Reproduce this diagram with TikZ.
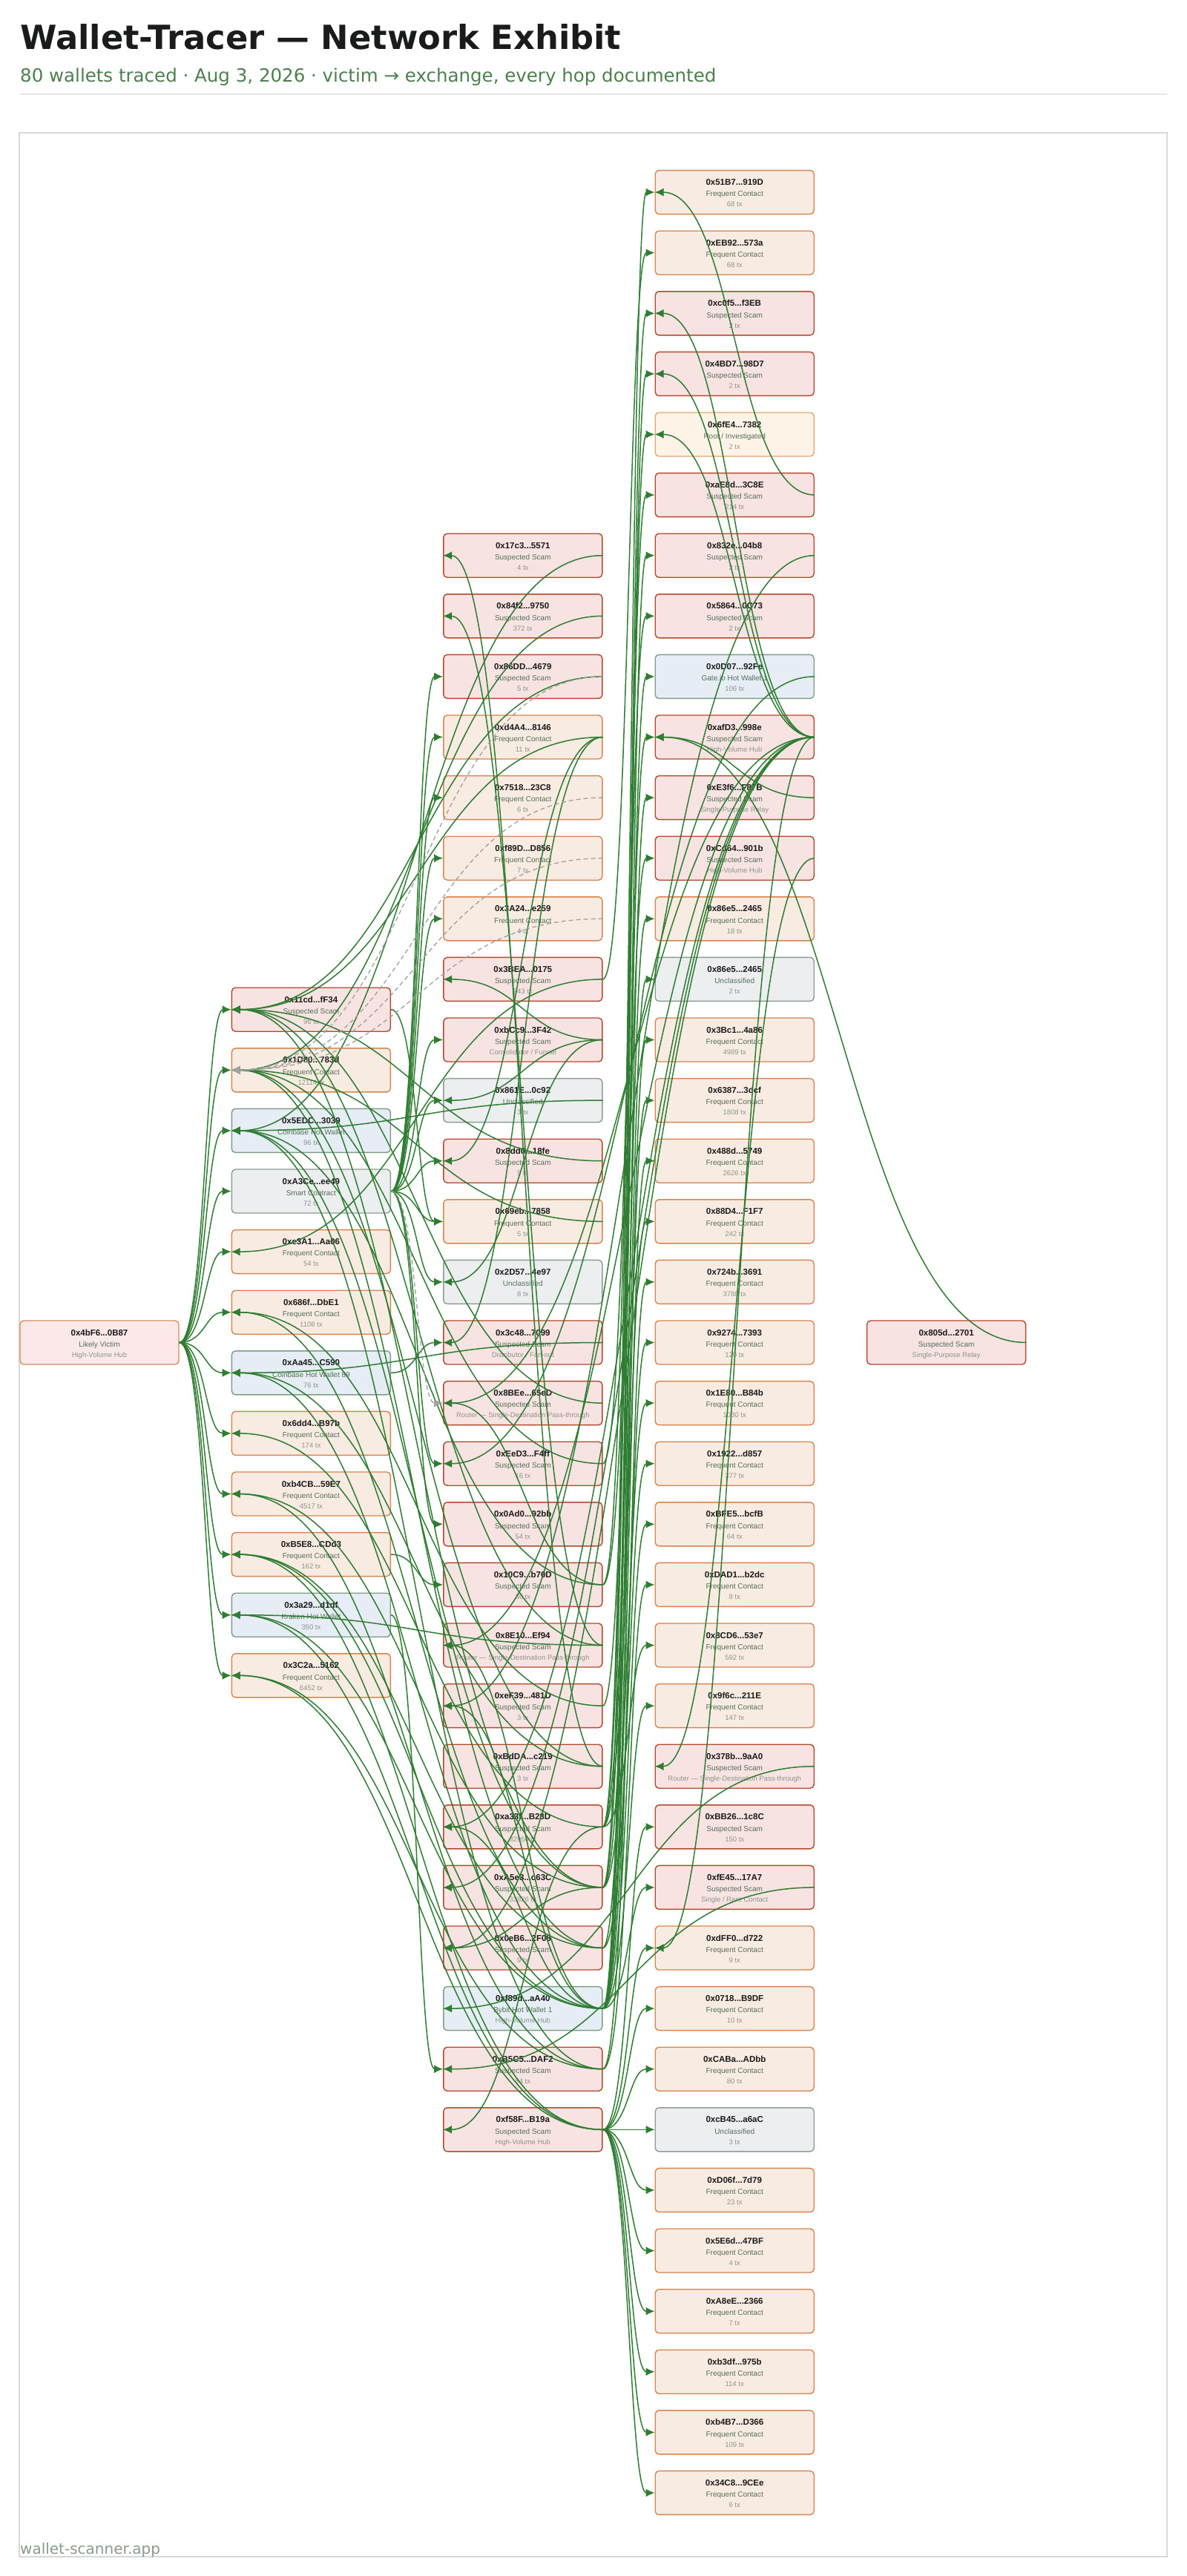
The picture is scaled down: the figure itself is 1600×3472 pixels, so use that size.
\documentclass[tikz,border=0pt]{standalone}
\usepackage{fontspec}
\setmainfont{Liberation Sans}
\newfontfamily\dejavu{DejaVu Sans}
\usetikzlibrary{arrows.meta,calc}

\definecolor{inkblack}{HTML}{1A1C1C}
\definecolor{subgreen}{HTML}{4C7F4E}
\definecolor{footgray}{HTML}{8A9A8C}
\definecolor{framegray}{HTML}{D8D8D8}
\definecolor{rulegray}{HTML}{E6E6E6}
\definecolor{edgegreen}{HTML}{2E7D32}
\definecolor{dashgray}{HTML}{A0A0A0}
\definecolor{scamfill}{HTML}{F7E3E1}
\definecolor{scamline}{HTML}{B6472D}
\definecolor{freqfill}{HTML}{F8EBE2}
\definecolor{freqline}{HTML}{D9844F}
\definecolor{vicfill}{HTML}{FBE8E9}
\definecolor{vicline}{HTML}{D98A5B}
\definecolor{rootfill}{HTML}{FDF3E7}
\definecolor{rootline}{HTML}{E5A66C}
\definecolor{cexfill}{HTML}{E6EDF4}
\definecolor{cexline}{HTML}{7E9C88}
\definecolor{unkfill}{HTML}{ECEEF0}
\definecolor{unkline}{HTML}{8D9C93}
\definecolor{addrtext}{HTML}{1A1A1A}
\definecolor{roletext}{HTML}{56705A}
\definecolor{notetext}{HTML}{8E968E}

\tikzset{
  wbox/.style={rounded corners=5pt, line width=1.4pt, minimum width=214pt, minimum height=59pt, inner sep=0pt},
  scam/.style={wbox, draw=scamline, fill=scamfill},
  freq/.style={wbox, draw=freqline, fill=freqfill},
  victim/.style={wbox, draw=vicline, fill=vicfill},
  root/.style={wbox, draw=rootline, fill=rootfill},
  cex/.style={wbox, draw=cexline, fill=cexfill},
  unk/.style={wbox, draw=unkline, fill=unkfill},
  addr/.style={anchor=base, inner sep=0pt, text=addrtext, font=\bfseries\fontsize{11.5}{13}\selectfont},
  role/.style={anchor=base, inner sep=0pt, text=roletext, font=\fontsize{10}{12}\selectfont},
  note/.style={anchor=base, inner sep=0pt, text=notetext, font=\fontsize{9.5}{11}\selectfont},
  link/.style={draw=edgegreen, line width=1.5pt, -{Latex[length=12pt,width=11pt]}},
  dlink/.style={draw=dashgray, line width=1.3pt, dash pattern=on 6pt off 4pt, -{Latex[length=12pt,width=11pt]}},
}

% box + three lines of text
\newcommand\wallet[7]{%
  \node[#4] (#1) at (#2,{#3}) {};
  \node[addr] (#1-a) at ([yshift=9.5pt]#1.center) {#5};
  \node[role] (#1-r) at ([yshift=-5.8pt]#1.center) {#6};
  \node[note] (#1-n) at ([yshift=-19.8pt]#1.center) {#7};
}
% horizontal link, east side to west side
\newcommand\hop[3][link]{%
  \draw[#1] let \p1=(#2.east), \p2=(#3.west) in
    (\p1) .. controls ({(\x1+\x2)/2},\y1) and ({(\x1+\x2)/2},\y2) .. (\p2);
}

\begin{document}
\begin{tikzpicture}[x=1pt,y=-1pt]
  \useasboundingbox (0,0) rectangle (1600,3472);

  \node[anchor=base west, inner sep=0pt, text=inkblack, font={\dejavu\bfseries\fontsize{44.8}{52}\selectfont}] (title) at (27,66) {Wallet-Tracer — Network Exhibit};
  \node[anchor=base west, inner sep=0pt, text=subgreen, font={\dejavu\fontsize{24.5}{28}\selectfont}] (subtitle) at (27,110) {80 wallets traced · Aug 3, 2026 · victim → exchange, every hop documented};
  \draw[rulegray, line width=2pt] (27,127) -- (1573,127);
  \draw[framegray, line width=1.5pt] (26,179) rectangle (1573,3446);
  \node[anchor=base west, inner sep=0pt, text=footgray, font={\dejavu\fontsize{20}{24}\selectfont}] (footer) at (27,3442) {wallet-scanner.app};

  % column 0 and column 4
  \wallet{vic}{134}{1809.5}{victim}{0x4bF6...0B87}{Likely Victim}{High-Volume Hub}
  \wallet{d1}{1275.6}{1809.5}{scam}{0x805d...2701}{Suspected Scam}{Single-Purpose Relay}

  % column 1
  \foreach \ha/\hb/\ro/\no/\ki [count=\i] in {
    0x11cd/fF34/Suspected Scam/96 tx/scam,
    0x1D80/783d/Frequent Contact/12114 tx/freq,
    0x5EDC/3039/Coinbase Hot Wallet/96 tx/cex,
    0xA3Ce/ee49/Smart Contract/72 tx/unk,
    0xe3A1/Aa06/Frequent Contact/54 tx/freq,
    0x686f/DbE1/Frequent Contact/1108 tx/freq,
    0xAa45/C590/Coinbase Hot Wallet 89/76 tx/cex,
    0x6dd4/B97b/Frequent Contact/174 tx/freq,
    0xb4CB/59E7/Frequent Contact/4517 tx/freq,
    0xB5E8/CDd3/Frequent Contact/162 tx/freq,
    0x3a29/d1df/Kraken Hot Wallet/350 tx/cex,
    0x3C2a/5162/Frequent Contact/6452 tx/freq}
    {\wallet{a\i}{419.4}{1809.5+(\i-6.5)*81.6}{\ki}{\ha...\hb}{\ro}{\no}}

  % column 2
  \foreach \ha/\hb/\ro/\no/\ki [count=\i] in {
    0x17c3/5571/Suspected Scam/4 tx/scam,
    0x84f2/9750/Suspected Scam/372 tx/scam,
    0x86DD/4679/Suspected Scam/5 tx/scam,
    0xd4A4/8146/Frequent Contact/11 tx/freq,
    0x7518/23C8/Frequent Contact/6 tx/freq,
    0xf89D/D856/Frequent Contact/7 tx/freq,
    0x3A24/e259/Frequent Contact/4 tx/freq,
    0x3BEA/0175/Suspected Scam/943 tx/scam,
    0xbCc9/3F42/Suspected Scam/{Consolidator / Funnel}/scam,
    0x861E/0c92/Unclassified/3 tx/unk,
    0x8dd0/18fe/Suspected Scam/5 tx/scam,
    0x69eb/7858/Frequent Contact/5 tx/freq,
    0x2D57/4e97/Unclassified/8 tx/unk,
    0x3c48/7099/Suspected Scam/{Distributor / Fan-out}/scam,
    0x8BEe/65eD/Suspected Scam/Router — Single-Destination Pass-through/scam,
    0xEeD3/F4ff/Suspected Scam/16 tx/scam,
    0x0Ad0/92bb/Suspected Scam/54 tx/scam,
    0x10C9/b70D/Suspected Scam/36 tx/scam,
    0x8E10/Ef94/Suspected Scam/Router — Single-Destination Pass-through/scam,
    0xeF39/481D/Suspected Scam/3 tx/scam,
    0xBdDA/c219/Suspected Scam/3 tx/scam,
    0xa33f/B28D/Suspected Scam/32956 tx/scam,
    0xA5e3/c63C/Suspected Scam/33826 tx/scam,
    0x0eB6/2F08/Suspected Scam/9 tx/scam,
    0xf89d/aA40/Bybit Hot Wallet 1/High-Volume Hub/cex,
    0xB5C5/DAF2/Suspected Scam/84 tx/scam,
    0xf58F/B19a/Suspected Scam/High-Volume Hub/scam}
    {\wallet{b\i}{704.8}{1809.5+(\i-14)*81.6}{\ki}{\ha...\hb}{\ro}{\no}}

  % column 3
  \foreach \ha/\hb/\ro/\no/\ki [count=\i] in {
    0x51B7/919D/Frequent Contact/68 tx/freq,
    0xEB92/573a/Frequent Contact/68 tx/freq,
    0xc0f5/f3EB/Suspected Scam/2 tx/scam,
    0x4BD7/98D7/Suspected Scam/2 tx/scam,
    0x6fE4/7382/{Root / Investigated}/2 tx/root,
    0xaE8d/3C8E/Suspected Scam/214 tx/scam,
    0x832e/04b8/Suspected Scam/2 tx/scam,
    0x5864/0C73/Suspected Scam/2 tx/scam,
    0x0D07/92Fe/Gate.io Hot Wallet 1/106 tx/cex,
    0xafD3/998e/Suspected Scam/High-Volume Hub/scam,
    0xE3f6/F87B/Suspected Scam/Single-Purpose Relay/scam,
    0xCd64/901b/Suspected Scam/High-Volume Hub/scam,
    0x86e5/2465/Frequent Contact/18 tx/freq,
    0x86e5/2465/Unclassified/2 tx/unk,
    0x3Bc1/4a86/Frequent Contact/4989 tx/freq,
    0x6387/3dcf/Frequent Contact/1808 tx/freq,
    0x488d/5749/Frequent Contact/2626 tx/freq,
    0x88D4/F1F7/Frequent Contact/242 tx/freq,
    0x724b/3691/Frequent Contact/3788 tx/freq,
    0x9274/7393/Frequent Contact/120 tx/freq,
    0x1E80/B84b/Frequent Contact/1030 tx/freq,
    0x1922/d857/Frequent Contact/377 tx/freq,
    0xBFE5/bcfB/Frequent Contact/64 tx/freq,
    0xDAD1/b2dc/Frequent Contact/8 tx/freq,
    0x8CD6/53e7/Frequent Contact/592 tx/freq,
    0x9f6c/211E/Frequent Contact/147 tx/freq,
    0x378b/9aA0/Suspected Scam/Router — Single-Destination Pass-through/scam,
    0xBB26/1c8C/Suspected Scam/150 tx/scam,
    0xfE45/17A7/Suspected Scam/{Single / Rare Contact}/scam,
    0xdFF0/d722/Frequent Contact/9 tx/freq,
    0x0718/B9DF/Frequent Contact/10 tx/freq,
    0xCABa/ADbb/Frequent Contact/80 tx/freq,
    0xcB45/a6aC/Unclassified/3 tx/unk,
    0xD06f/7d79/Frequent Contact/23 tx/freq,
    0x5E6d/47BF/Frequent Contact/4 tx/freq,
    0xA8eE/2366/Frequent Contact/7 tx/freq,
    0xb3df/975b/Frequent Contact/114 tx/freq,
    0xb4B7/D366/Frequent Contact/109 tx/freq,
    0x34C8/9CEe/Frequent Contact/6 tx/freq}
    {\wallet{c\i}{990.2}{1809.5+(\i-20)*81.6}{\ki}{\ha...\hb}{\ro}{\no}}

  % victim fan-out
  \foreach \i in {1,...,12} {\hop{vic}{a\i}}

  % flows between columns
  \foreach \s/\t in {a4/b3, a4/b4, a4/b5, a4/b6, a4/b7, a4/b9, a4/b10, a4/b11, a4/b12, a4/b13,
    a4/b16, a4/b17, a7/b14, a10/b18, a11/b26, a1/b12,
    b3/a1, b4/a1, b11/a1, b15/a1, b19/a1, b23/a1,
    b2/a2, b12/a2, b16/a2, b21/a2, b24/a2,
    b1/a3, b10/a3, b18/a3, b23/a3, b26/a3,
    b8/a5, b20/a6, b24/a6, b14/a7, b21/a7, b25/a7, b22/a8, b23/a9, b26/a9,
    b24/a10, b25/a10, b27/a10, b19/a11, b25/a11, b27/a11, b26/a12, b27/a12,
    b21/b1, b19/b2, b9/b8, b9/b10, b9/b13, b4/b11, b4/b14, b18/b15, b25/b19,
    b25/b20, b25/b22, b23/b24, b22/b27,
    b22/c1, b8/c2, b23/c3, b25/c4, b22/c5, b18/c6, b25/c7, b16/c8, b23/c9, b20/c10,
    b25/c11, b18/c12, b22/c13, b24/c14, b25/c15, b23/c16, b25/c17, b22/c18, b26/c19,
    b25/c20, b23/c21, b24/c22, b25/c23, b26/c24, b22/c25, b25/c26, b27/c28, b25/c29,
    b27/c30, b27/c31, b27/c32, b27/c33, b27/c34, b27/c35, b27/c36, b27/c37, b27/c38, b27/c39,
    c6/c1, c10/c3, c10/c4, c10/c5, c11/c10, c12/c27, c10/c30,
    c10/b15, c10/b19, c10/b22, c10/b23, c10/b24, c7/b20, c9/b16, c27/b25, c29/b26,
    d1/c10}
    {\hop{\s}{\t}}

  % weak (dashed) links
  \foreach \s/\t in {b3/a2, b5/a2, b6/a2, b7/a2, a4/b15} {\hop[dlink]{\s}{\t}}
\end{tikzpicture}
\end{document}
